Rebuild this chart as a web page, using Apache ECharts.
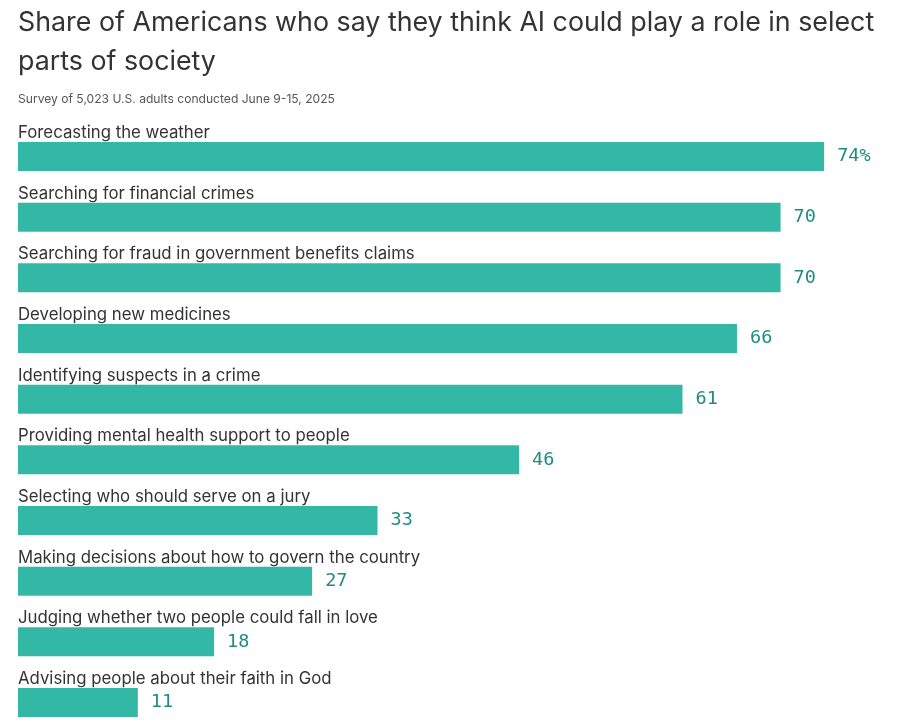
<!DOCTYPE html>
<html><head><meta charset="utf-8">
<script src="https://cdn.jsdelivr.net/npm/echarts@6/dist/echarts.min.js"></script>
<style>html,body{margin:0;padding:0;background:#fff}#c{width:920px;height:723px}</style>
</head><body><div id="c"></div>
<script>
const categories = [
  "Forecasting the weather",
  "Searching for financial crimes",
  "Searching for fraud in government benefits claims",
  "Developing new medicines",
  "Identifying suspects in a crime",
  "Providing mental health support to people",
  "Selecting who should serve on a jury",
  "Making decisions about how to govern the country",
  "Judging whether two people could fall in love",
  "Advising people about their faith in God"
];
const values = [74, 70, 70, 66, 61, 46, 33, 27, 18, 11];
const titleText = "Share of Americans who say they think AI could play a role in select\nparts of society";
const subtitleText = "Survey of 5,023 U.S. adults conducted June 9-15, 2025";

const chart = echarts.init(document.getElementById('c'), null, {renderer: 'canvas'});
chart.setOption({
  animation: false,
  backgroundColor: '#fff',
  title: [{
    text: titleText,
    left: 18, top: 3, padding: 0,
    textStyle: {fontFamily: 'Inter', fontSize: 26.8, fontWeight: 'normal', color: '#333', lineHeight: 39}
  }, {
    text: subtitleText,
    left: 18, top: 93, padding: 0,
    textStyle: {fontFamily: 'Inter', fontSize: 12.1, fontWeight: 'normal', color: '#555'}
  }],
  grid: {left: 18, right: 30.5, top: 156.5, height: 546, containLabel: false},
  xAxis: {type: 'value', min: 0, max: 80, show: false},
  yAxis: {
    type: 'category', data: categories, inverse: true, boundaryGap: false,
    axisLine: {show: false}, axisTick: {show: false}, splitLine: {show: false},
    axisLabel: {
      inside: true, margin: 0, align: 'left', verticalAlign: 'bottom',
      padding: [0, 0, 13.5, 0], lineHeight: 20,
      fontFamily: 'Inter', fontSize: 16.8, color: '#333'
    }
  },
  series: [{
    type: 'bar', data: values, barWidth: 29, clip: false,
    itemStyle: {color: '#33b8a6'},
    label: {
      show: true, position: 'right', distance: 13,
      fontFamily: 'DejaVu Sans Mono', fontSize: 18.5, color: '#1f8c80',
      formatter: p => p.dataIndex === 0 ? p.value + '%' : String(p.value)
    }
  }]
});
</script></body></html>
